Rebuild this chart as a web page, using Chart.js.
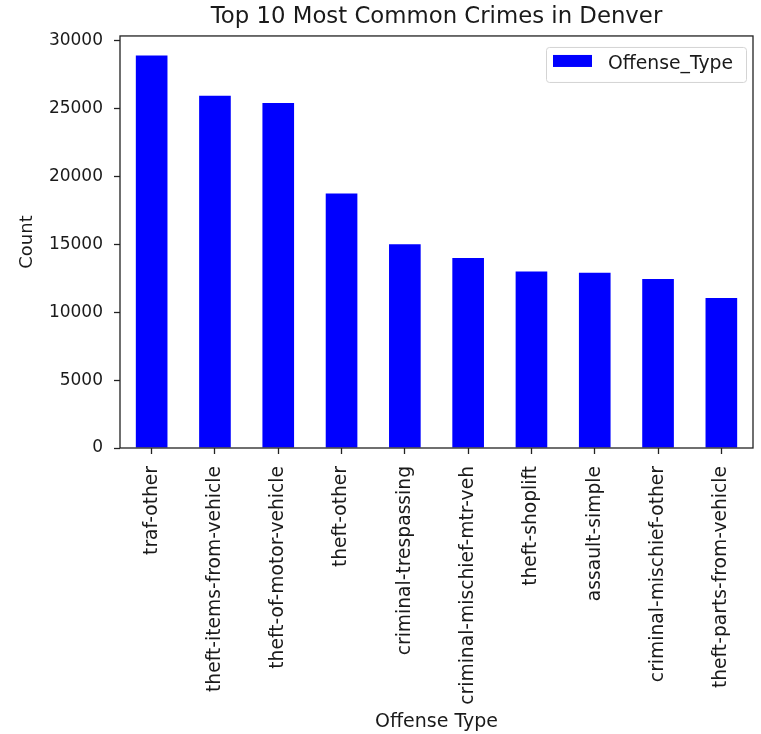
<!DOCTYPE html>
<html>
<head>
<meta charset="utf-8">
<title>Top 10 Most Common Crimes in Denver</title>
<script src="https://cdn.jsdelivr.net/npm/chart.js@4"></script>
<style>
    body { margin: 0; background: #fff; }
    #wrap { width: 761px; height: 734px; position: relative; }
</style>
</head>
<body>
<div id="wrap"><canvas id="crimes-chart"></canvas></div>
<script>
var offenseTypes = [
    "traf-other",
    "theft-items-from-vehicle",
    "theft-of-motor-vehicle",
    "theft-other",
    "criminal-trespassing",
    "criminal-mischief-mtr-veh",
    "theft-shoplift",
    "assault-simple",
    "criminal-mischief-other",
    "theft-parts-from-vehicle"
];
var offenseCounts = [28900, 25950, 25400, 18750, 15000, 14000, 13000, 12900, 12450, 11050];
var yTicks = [0, 5000, 10000, 15000, 20000, 25000, 30000];

var seriesName = "Offense_Type";
var textColor = "#1a1a1a";
var fontFamily = "'DejaVu Sans', sans-serif";

// frame round the plot, like matplotlib spines
var framePlugin = {
    id: "frame",
    afterDraw: function (chart) {
        var a = chart.chartArea;
        var ctx = chart.ctx;
        ctx.save();
        ctx.strokeStyle = "#222";
        ctx.lineWidth = 1.3;
        ctx.strokeRect(a.left, a.top, a.right - a.left, a.bottom - a.top);
        ctx.restore();
    }
};

// legend box in the upper right corner of the plot
var boxLegendPlugin = {
    id: "boxLegend",
    afterDraw: function (chart) {
        var a = chart.chartArea;
        var ctx = chart.ctx;
        var ds = chart.data.datasets[0];
        var w = 200, h = 35;
        var x = a.right - 7 - w, y = a.top + 11;
        ctx.save();
        ctx.fillStyle = "rgba(255,255,255,0.8)";
        ctx.strokeStyle = "#d4d4d4";
        ctx.lineWidth = 1;
        ctx.beginPath();
        ctx.roundRect(x + 0.5, y + 0.5, w, h, 3);
        ctx.fill();
        ctx.stroke();
        ctx.fillStyle = ds.backgroundColor;
        ctx.fillRect(x + 7, y + 8, 39, 12);
        ctx.fillStyle = textColor;
        ctx.font = "18.8px " + fontFamily;
        ctx.textBaseline = "middle";
        ctx.fillText(ds.label, x + 62, y + h / 2);
        ctx.restore();
    }
};

function startUp() {
    var ctx = document.getElementById("crimes-chart");
    new Chart(ctx, {
        type: "bar",
        data: {
            labels: offenseTypes,
            datasets: [{
                label: seriesName,
                data: offenseCounts,
                backgroundColor: "#0000ff",
                borderWidth: 0,
                categoryPercentage: 1.0,
                barPercentage: 0.5
            }]
        },
        options: {
            responsive: true,
            maintainAspectRatio: false,
            animation: false,
            layout: { padding: { left: 0, right: 8, top: 0, bottom: 0 } },
            plugins: {
                legend: { display: false },
                tooltip: { enabled: false },
                title: {
                    display: true,
                    fullSize: false, // centre over the plot, not the page
                    text: "Top 10 Most Common Crimes in Denver",
                    color: textColor,
                    font: { family: fontFamily, size: 22.8, weight: "normal" },
                    padding: { top: 3, bottom: 5.6 }
                }
            },
            scales: {
                x: {
                    grid: { display: true, drawOnChartArea: false, offset: false, tickLength: 6, tickColor: "#222", tickWidth: 1.3 },
                    border: { display: false },
                    ticks: {
                        autoSkip: false,
                        minRotation: 90,
                        maxRotation: 90,
                        padding: 12,
                        color: textColor,
                        font: { family: fontFamily, size: 18.7 }
                    },
                    title: {
                        display: true,
                        text: "Offense Type",
                        color: textColor,
                        font: { family: fontFamily, size: 19 },
                        padding: { top: 0, bottom: 1 }
                    },
                    afterFit: function (scale) { scale.height = 286; }
                },
                y: {
                    min: 0,
                    max: Math.max.apply(null, offenseCounts) * 1.05,
                    afterBuildTicks: function (scale) {
                        scale.ticks = yTicks.map(function (v) { return { value: v }; });
                    },
                    grid: { display: true, drawOnChartArea: false, tickLength: 6, tickColor: "#222", tickWidth: 1.3 },
                    border: { display: false },
                    ticks: {
                        padding: 11,
                        color: textColor,
                        font: { family: fontFamily, size: 17 },
                        callback: function (v) { return String(v); }
                    },
                    title: {
                        display: true,
                        text: "Count",
                        color: textColor,
                        font: { family: fontFamily, size: 18 },
                        padding: { top: 16.7, bottom: 0 }
                    },
                    afterFit: function (scale) { scale.width = 120; }
                }
            }
        },
        plugins: [framePlugin, boxLegendPlugin]
    });
}

startUp();
</script>
</body>
</html>
